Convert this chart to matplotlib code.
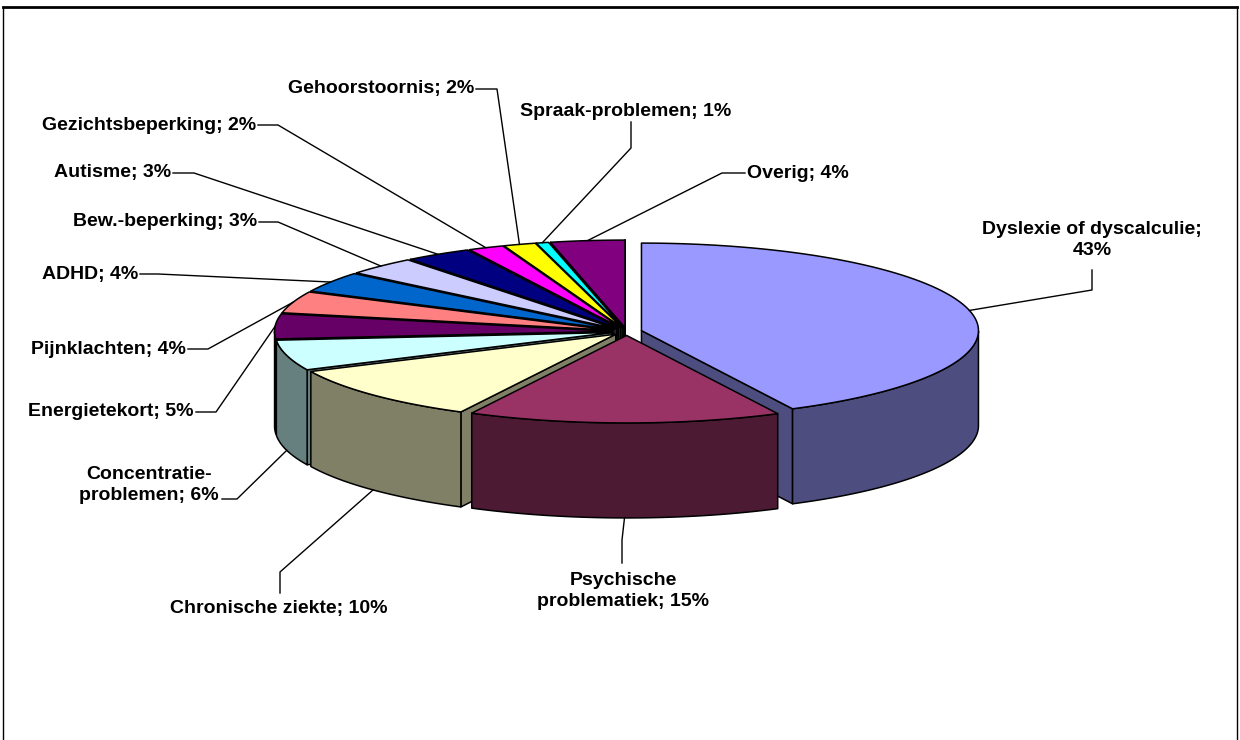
import numpy as np
import matplotlib.pyplot as plt
from matplotlib.patches import Polygon
from matplotlib.colors import to_rgb

# data (percent shares; labels show the rounded values)
categories = ["Dyslexie of dyscalculie", "Psychische problematiek", "Chronische ziekte",
              "Concentratie-problemen", "Energietekort", "Pijnklachten", "ADHD",
              "Bew.-beperking", "Autisme", "Gezichtsbeperking", "Gehoorstoornis",
              "Spraak-problemen", "Overig"]
values = [42.6, 15.0, 10.4, 5.6, 4.6, 4.0, 3.8, 3.4, 3.2, 1.7, 1.55, 0.6, 3.55]
colors = ["#9999FF", "#993366", "#FFFFCC", "#CCFFFF", "#660066", "#FF8080", "#0066CC",
          "#CCCCFF", "#000080", "#FF00FF", "#FFFF00", "#00FFFF", "#800080"]

# pie geometry in pixel units
CX, CY = 626.7, 331.5
RX, RY = 337, 87.5
DEPTH = 95
EXPLODE = 0.045

# leader elbow, leader end, text anchor, ha, line break
label_layout = [
    ((1092, 290), (1092, 270), (1092, 240), 'center', ("; ", ";\n")),
    ((622, 540), (622, 563), (623, 591), 'center', (" ", "\n")),
    ((280, 572), (280, 593), (279, 609), 'center', None),
    ((237, 499), (222, 499), (149, 485), 'center', ("-", "-\n")),
    ((216, 412), (196, 412), (194, 412), 'right', None),
    ((208, 349), (188, 349), (186, 349), 'right', None),
    ((158, 274), (140, 274), (138, 274), 'right', None),
    ((278, 222), (259, 222), (257, 222), 'right', None),
    ((194, 173), (173, 173), (171, 173), 'right', None),
    ((278, 125), (258, 125), (256, 125), 'right', None),
    ((497, 89), (476, 89), (474, 89), 'right', None),
    ((631, 148), (631, 122), (520, 112), 'left', None),
    ((722, 173), (745, 173), (747, 173), 'left', None),
]

plt.rcParams['font.family'] = ['Liberation Sans', 'DejaVu Sans']

fig = plt.figure(figsize=(12.4, 7.4), dpi=100)
ax = fig.add_axes([0, 0, 1, 1])
ax.set_xlim(0, 1240)
ax.set_ylim(740, 0)
ax.axis('off')


def rim(c, th, drop=0.0):
    return c[0] + RX * np.cos(th), c[1] - RY * np.sin(th) + drop


fracs = np.array(values) / sum(values)
ends = np.radians(90 - 360 * np.cumsum(fracs))
starts = ends + np.radians(360 * fracs)
mids = (starts + ends) / 2
centers = [(CX + EXPLODE * RX * np.cos(m), CY - EXPLODE * RY * np.sin(m)) for m in mids]

lw = 1.1
# back to front
for i in np.argsort(-np.sin(mids)):
    a0, a1, c = starts[i], ends[i], centers[i]
    side = tuple(0.5 * v for v in to_rgb(colors[i]))
    # radial walls facing the viewer
    for a, vis in ((a0, np.cos(a0) < 0), (a1, np.cos(a1) > 0)):
        if vis:
            x, y = rim(c, a)
            quad = [c, (x, y), (x, y + DEPTH), (c[0], c[1] + DEPTH)]
            ax.add_patch(Polygon(quad, closed=True, fc=side, ec='black', lw=lw, joinstyle='round'))
    th = np.linspace(a0, a1, 400)
    m = np.sin(th) <= 0
    if m.sum() > 1:
        xs, ys = rim(c, th[m])
        pts = np.r_[np.c_[xs, ys], np.c_[xs[::-1], ys[::-1] + DEPTH]]
        ax.add_patch(Polygon(pts, closed=True, fc=side, ec='black', lw=lw, joinstyle='round'))
    xs, ys = rim(c, th)
    pts = np.r_[[c], np.c_[xs, ys]]
    ax.add_patch(Polygon(pts, closed=True, fc=colors[i], ec='black', lw=lw, joinstyle='round'))

# labels with leader lines
for i, (p1, p2, txy, ha, brk) in enumerate(label_layout):
    drop = DEPTH if np.sin(mids[i]) < -0.2 else 0
    x0, y0 = rim(centers[i], mids[i], drop)
    ax.plot([x0, p1[0], p2[0]], [y0, p1[1], p2[1]], color='black', lw=1.0)
    text = f"{categories[i]}; {round(values[i])}%"
    if brk:
        text = text.replace(brk[0], brk[1], 1)
    ax.text(txy[0], txy[1], text, ha=ha, va='center', multialignment='center',
            fontsize=14, fontweight='bold', linespacing=1.3, color='black')

# chart area border
ax.plot([3, 1237], [7, 7], color='black', lw=2.0, clip_on=False)
ax.plot([3, 3], [7, 740], color='black', lw=1.0, clip_on=False)
ax.plot([1237, 1237], [7, 740], color='black', lw=1.0, clip_on=False)

fig.savefig('out.png', dpi=100)
